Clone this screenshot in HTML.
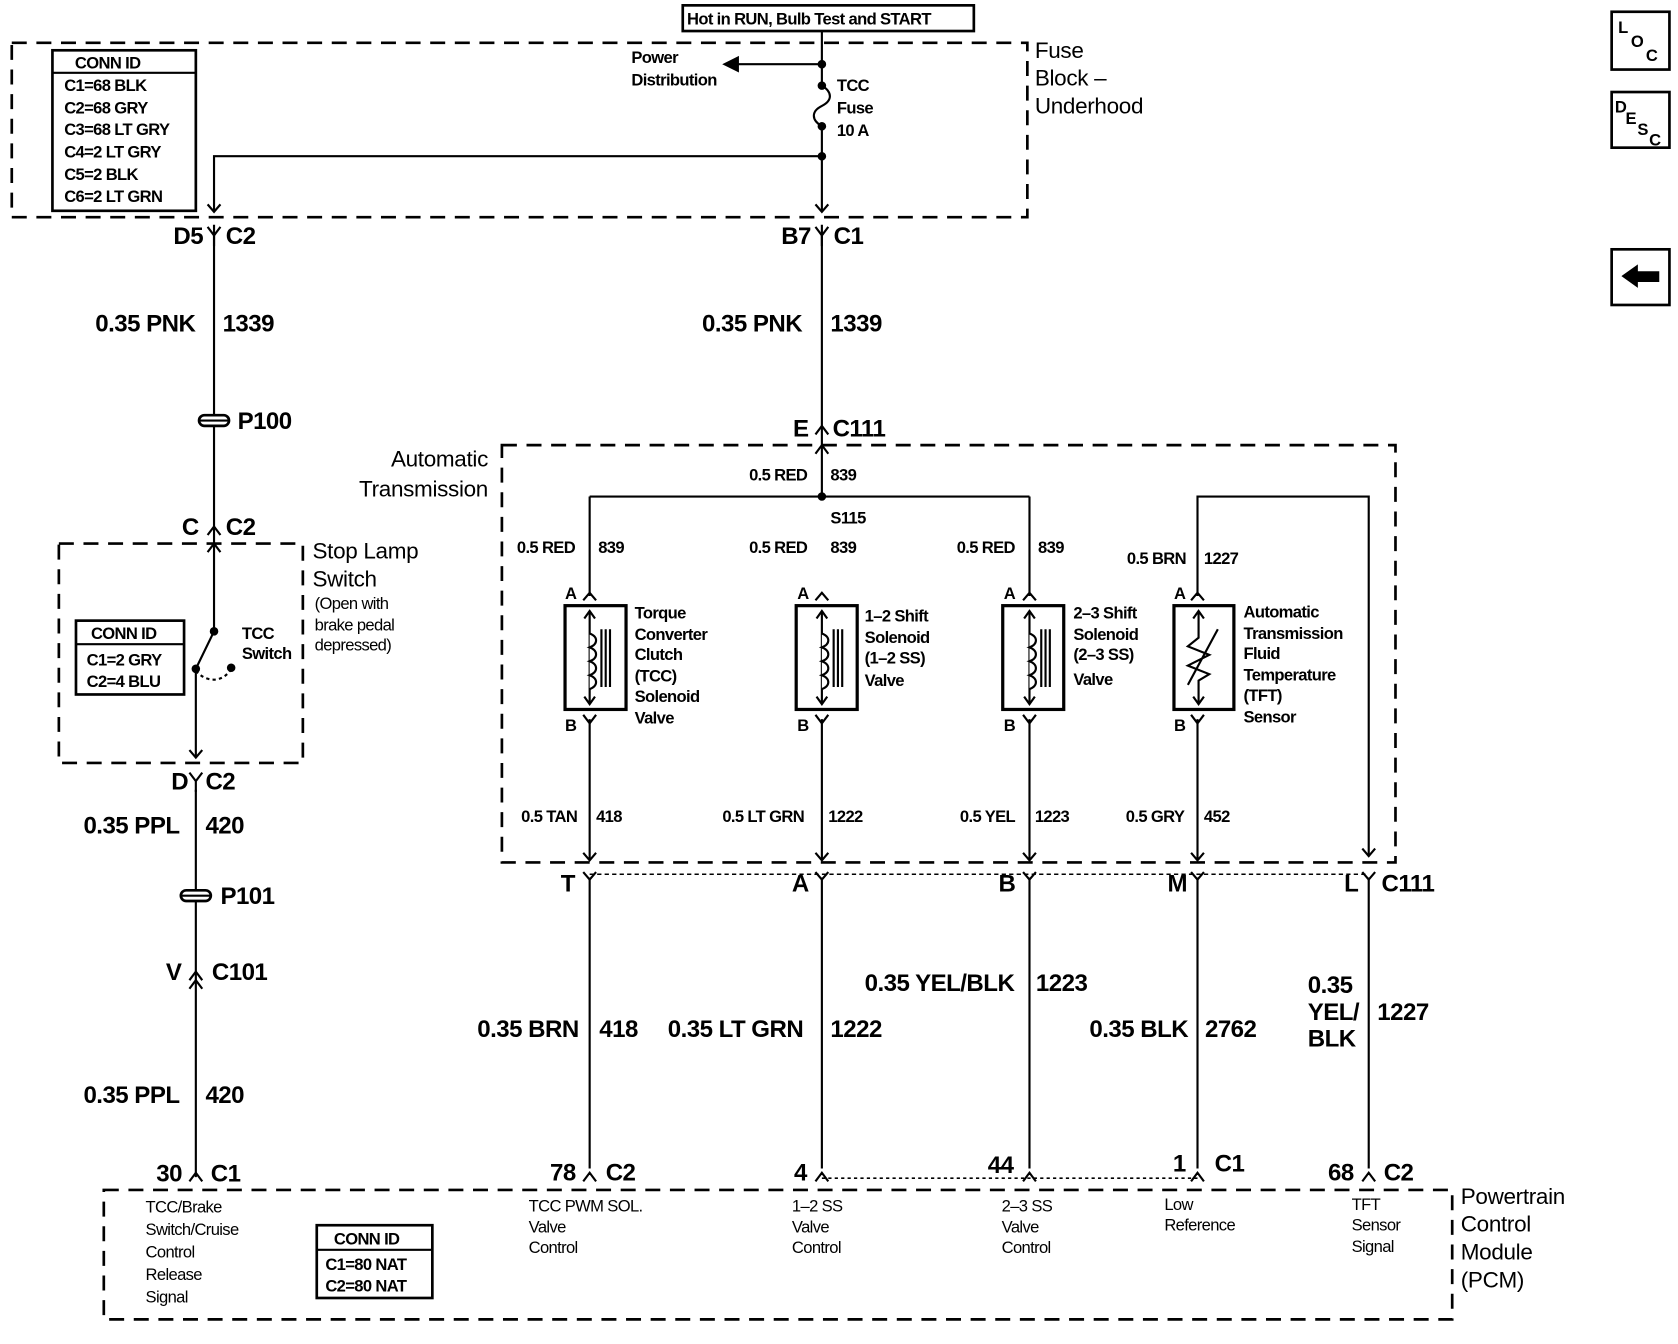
<!DOCTYPE html>
<html><head><meta charset="utf-8"><style>
html,body{margin:0;padding:0;background:#fff;}
svg{display:block;}
text{font-family:"Liberation Sans",sans-serif;fill:#000;font-weight:bold;}
.s{font-size:15.5px;letter-spacing:-0.6px;font-weight:normal;}
.sb{font-size:15.5px;letter-spacing:-0.6px;}
.m{font-size:22.5px;letter-spacing:-0.5px;}
.l{font-size:21px;letter-spacing:-0.3px;font-weight:normal;}
</style></head><body>
<svg width="1678" height="1344" viewBox="0 0 1568 1256" preserveAspectRatio="none" xmlns="http://www.w3.org/2000/svg">
<g fill="none" stroke="#000" stroke-width="2">
<rect x="11" y="40" width="949" height="163" stroke-dasharray="14,9" stroke-width="2.5"/>
<rect x="55" y="508" width="228" height="205" stroke-dasharray="14,9" stroke-width="2.5"/>
<rect x="469" y="416" width="835" height="390" stroke-dasharray="14,9" stroke-width="2.5"/>
<rect x="97" y="1112" width="1260" height="121" stroke-dasharray="14,9" stroke-width="2.5"/>
<rect x="638" y="5" width="272" height="24" stroke-width="2.5"/>
<rect x="49" y="47" width="134" height="150" stroke-width="2.5"/>
<line x1="49" y1="68" x2="183" y2="68"/>
<rect x="71" y="580" width="101" height="69" stroke-width="2.5"/>
<line x1="71" y1="602" x2="172" y2="602"/>
<rect x="296" y="1145" width="108" height="68" stroke-width="2.5"/>
<line x1="296" y1="1168" x2="404" y2="1168"/>
<rect x="1506" y="11" width="54" height="54" stroke-width="2.5"/>
<rect x="1506" y="86" width="54" height="52" stroke-width="2.5"/>
<rect x="1506" y="233" width="54" height="52" stroke-width="2.5"/>
<path d="M768 29 V80 M768 118 V198"/>
<path d="M768 80 C778 86,778 94,768 99 C758 104,758 112,768 118"/>
<path d="M768 60 H682"/>
<path d="M768 146 H200 V198"/>
<path d="M762 191 L768 198 L774 191 M194 191 L200 198 L206 191"/>
<path d="M200 210 V590 M200 590 L184 623 M183 625 V708"/>
<path d="M194 516 L200 508 L206 516"/>
<path d="M177 701 L183 708 L189 701"/>
<path d="M183 627 C195 640,210 636,216 625" stroke-dasharray="3,3"/>
<path d="M183 738 V1100"/>
<path d="M768 210 V464"/>
<path d="M762 424 L768 416 L774 424"/>
<path d="M551 464 H962 M551 464 V557 M962 464 V557"/>
<path d="M1119 557 V464 H1279 V800"/>
<rect x="528" y="566" width="57" height="97" stroke-width="3"/>
<rect x="744" y="566" width="57" height="97" stroke-width="3"/>
<rect x="937" y="566" width="57" height="97" stroke-width="3"/>
<rect x="1097" y="566" width="56" height="97" stroke-width="3"/>
<path d="M551 672 V804 M768 672 V804 M962 672 V804 M1119 672 V804"/>
<path d="M545 797 L551 804 L557 797 M762 797 L768 804 L774 797 M956 797 L962 804 L968 797 M1113 797 L1119 804 L1125 797 M1273 793 L1279 800 L1285 793"/>
<path d="M551 817 H1279" stroke-dasharray="4,3" stroke-width="1.3"/>
<path d="M768 1101 H1119" stroke-dasharray="3,3" stroke-width="1.5"/>
<path d="M551 820 V1092 M768 820 V1092 M962 820 V1092 M1119 820 V1092 M1279 820 V1092"/>
</g>
<g fill="none" stroke="#000" stroke-width="2">
<path d="M194 212 L200 220 L206 212 M200 220 V230"/>
<path d="M762 212 L768 220 L774 212 M768 220 V230"/>
<path d="M762 406 L768 398 L774 406"/>
<path d="M194 500 L200 492 L206 500"/>
<path d="M177 722 L183 730 L189 722 M183 730 V740"/>
<path d="M177 916 L183 908 L189 916 M177 924 L183 916 L189 924"/>
<path d="M177 1104 L183 1096 L189 1104"/>
<path d="M545 1104 L551 1096 L557 1104 M762 1104 L768 1096 L774 1104 M956 1104 L962 1096 L968 1104 M1113 1104 L1119 1096 L1125 1104 M1273 1104 L1279 1096 L1285 1104"/>
<path d="M545 561 L551 554 L557 561 M762 561 L768 554 L774 561 M956 561 L962 554 L968 561 M1113 561 L1119 554 L1125 561"/>
<path d="M545 668 L551 676 L557 668 M762 668 L768 676 L774 668 M956 668 L962 676 L968 668 M1113 668 L1119 676 L1125 668"/>
<path d="M545 815 L551 822 L557 815 M762 815 L768 822 L774 815 M956 815 L962 822 L968 815 M1113 815 L1119 822 L1125 815 M1273 815 L1279 822 L1285 815"/>
<path d="M551 572 V658 M546 578 L551 571 L556 578 M546 651 L551 658 L556 651 M562 588 V642 M566 588 V642 M570 588 V642"/>
<path d="M768 572 V658 M763 578 L768 571 L773 578 M763 651 L768 658 L773 651 M779 588 V642 M783 588 V642 M787 588 V642"/>
<path d="M962 572 V658 M957 578 L962 571 L967 578 M957 651 L962 658 L967 651 M973 588 V642 M977 588 V642 M981 588 V642"/>
<path d="M551 592 c8 3,8 10,0 13 c8 3,8 10,0 13 c8 3,8 10,0 13 c8 3,8 10,0 13" fill="#fff"/>
<path d="M768 592 c8 3,8 10,0 13 c8 3,8 10,0 13 c8 3,8 10,0 13 c8 3,8 10,0 13" fill="#fff"/>
<path d="M962 592 c8 3,8 10,0 13 c8 3,8 10,0 13 c8 3,8 10,0 13 c8 3,8 10,0 13" fill="#fff"/>
<path d="M1120 572 V596 L1110 604 L1130 612 L1110 622 L1130 630 L1120 636 V658 M1115 578 L1120 571 L1125 578 M1115 651 L1120 658 L1125 651 M1110 640 L1138 588"/>
</g>
<g fill="#000" stroke="#000">
<rect x="186" y="388" width="28" height="10" rx="5" fill="#fff" stroke-width="2.5"/>
<line x1="186" y1="393" x2="214" y2="393" stroke-width="2"/>
<rect x="169" y="832" width="28" height="10" rx="5" fill="#fff" stroke-width="2.5"/>
<line x1="169" y1="837" x2="197" y2="837" stroke-width="2"/>
<circle cx="768" cy="60" r="3.5"/><circle cx="768" cy="80" r="3.5"/><circle cx="768" cy="118" r="3.5"/><circle cx="768" cy="146" r="3.5"/>
<circle cx="768" cy="464" r="3.5"/>
<circle cx="200" cy="590" r="3.5"/><circle cx="183" cy="625" r="3.5"/><circle cx="216" cy="624" r="3.5"/>
<polygon points="676,60 690,53 690,67"/>
<polygon points="1516,258 1530,248 1530,254 1550,254 1550,263 1530,263 1530,268"/>
</g>
<text class="sb" x="642" y="23">Hot in RUN, Bulb Test and START</text>
<text class="l" x="967" y="54">Fuse</text>
<text class="l" x="967" y="80">Block –</text>
<text class="l" x="967" y="106">Underhood</text>
<text class="sb" x="70" y="64">CONN ID</text>
<text class="sb" x="60" y="85">C1=68 BLK</text>
<text class="sb" x="60" y="106">C2=68 GRY</text>
<text class="sb" x="60" y="126">C3=68 LT GRY</text>
<text class="sb" x="60" y="147">C4=2 LT GRY</text>
<text class="sb" x="60" y="168">C5=2 BLK</text>
<text class="sb" x="60" y="189">C6=2 LT GRN</text>
<text class="sb" x="590" y="59">Power</text>
<text class="sb" x="590" y="80">Distribution</text>
<text class="sb" x="782" y="85">TCC</text>
<text class="sb" x="782" y="106">Fuse</text>
<text class="sb" x="782" y="127">10 A</text>
<text class="m" x="162" y="228">D5</text><text class="m" x="211" y="228">C2</text>
<text class="m" x="730" y="228">B7</text><text class="m" x="779" y="228">C1</text>
<text class="m" x="89" y="310">0.35 PNK</text><text class="m" x="208" y="310">1339</text>
<text class="m" x="656" y="310">0.35 PNK</text><text class="m" x="776" y="310">1339</text>
<text class="m" x="222" y="401">P100</text>
<text class="m" x="741" y="408">E</text><text class="m" x="778" y="408">C111</text>
<text class="l" x="456" y="436" text-anchor="end">Automatic</text>
<text class="l" x="456" y="464" text-anchor="end">Transmission</text>
<text class="m" x="170" y="500">C</text><text class="m" x="211" y="500">C2</text>
<text class="l" x="292" y="522">Stop Lamp</text>
<text class="l" x="292" y="548">Switch</text>
<text class="s" x="294" y="569">(Open with</text>
<text class="s" x="294" y="589">brake pedal</text>
<text class="s" x="294" y="608">depressed)</text>
<text class="sb" x="226" y="597">TCC</text>
<text class="sb" x="226" y="616">Switch</text>
<text class="sb" x="85" y="597">CONN ID</text>
<text class="sb" x="81" y="622">C1=2 GRY</text>
<text class="sb" x="81" y="642">C2=4 BLU</text>
<text class="m" x="160" y="738">D</text><text class="m" x="192" y="738">C2</text>
<text class="m" x="78" y="779">0.35 PPL</text><text class="m" x="192" y="779">420</text>
<text class="m" x="206" y="845">P101</text>
<text class="m" x="155" y="916">V</text><text class="m" x="198" y="916">C101</text>
<text class="m" x="78" y="1031">0.35 PPL</text><text class="m" x="192" y="1031">420</text>
<text class="m" x="146" y="1104">30</text><text class="m" x="197" y="1104">C1</text>
<text class="sb" x="700" y="449">0.5 RED</text><text class="sb" x="776" y="449">839</text>
<text class="sb" x="776" y="489">S115</text>
<text class="sb" x="483" y="517">0.5 RED</text><text class="sb" x="559" y="517">839</text>
<text class="sb" x="700" y="517">0.5 RED</text><text class="sb" x="776" y="517">839</text>
<text class="sb" x="894" y="517">0.5 RED</text><text class="sb" x="970" y="517">839</text>
<text class="sb" x="1053" y="527">0.5 BRN</text><text class="sb" x="1125" y="527">1227</text>
<text class="sb" x="528" y="560">A</text><text class="sb" x="745" y="560">A</text><text class="sb" x="938" y="560">A</text><text class="sb" x="1097" y="560">A</text>
<text class="sb" x="528" y="683">B</text><text class="sb" x="745" y="683">B</text><text class="sb" x="938" y="683">B</text><text class="sb" x="1097" y="683">B</text>
<text class="sb" x="593" y="578">Torque</text><text class="sb" x="593" y="598">Converter</text><text class="sb" x="593" y="617">Clutch</text><text class="sb" x="593" y="637">(TCC)</text><text class="sb" x="593" y="656">Solenoid</text><text class="sb" x="593" y="676">Valve</text>
<text class="sb" x="808" y="581">1–2 Shift</text><text class="sb" x="808" y="601">Solenoid</text><text class="sb" x="808" y="620">(1–2 SS)</text><text class="sb" x="808" y="641">Valve</text>
<text class="sb" x="1003" y="578">2–3 Shift</text><text class="sb" x="1003" y="598">Solenoid</text><text class="sb" x="1003" y="617">(2–3 SS)</text><text class="sb" x="1003" y="640">Valve</text>
<text class="sb" x="1162" y="577">Automatic</text><text class="sb" x="1162" y="597">Transmission</text><text class="sb" x="1162" y="616">Fluid</text><text class="sb" x="1162" y="636">Temperature</text><text class="sb" x="1162" y="655">(TFT)</text><text class="sb" x="1162" y="675">Sensor</text>
<text class="sb" x="487" y="768">0.5 TAN</text><text class="sb" x="557" y="768">418</text>
<text class="sb" x="675" y="768">0.5 LT GRN</text><text class="sb" x="774" y="768">1222</text>
<text class="sb" x="897" y="768">0.5 YEL</text><text class="sb" x="967" y="768">1223</text>
<text class="sb" x="1052" y="768">0.5 GRY</text><text class="sb" x="1125" y="768">452</text>
<text class="m" x="524" y="833">T</text><text class="m" x="740" y="833">A</text><text class="m" x="933" y="833">B</text><text class="m" x="1091" y="833">M</text><text class="m" x="1256" y="833">L</text><text class="m" x="1291" y="833">C111</text>
<text class="m" x="808" y="926">0.35 YEL/BLK</text><text class="m" x="968" y="926">1223</text>
<text class="m" x="446" y="969">0.35 BRN</text><text class="m" x="560" y="969">418</text>
<text class="m" x="624" y="969">0.35 LT GRN</text><text class="m" x="776" y="969">1222</text>
<text class="m" x="1018" y="969">0.35 BLK</text><text class="m" x="1126" y="969">2762</text>
<text class="m" x="1222" y="928">0.35</text><text class="m" x="1222" y="953">YEL/</text><text class="m" x="1222" y="978">BLK</text><text class="m" x="1287" y="953">1227</text>
<text class="m" x="514" y="1103">78</text><text class="m" x="566" y="1103">C2</text>
<text class="m" x="742" y="1103">4</text>
<text class="m" x="923" y="1096">44</text>
<text class="m" x="1096" y="1095">1</text><text class="m" x="1135" y="1095">C1</text>
<text class="m" x="1241" y="1103">68</text><text class="m" x="1293" y="1103">C2</text>
<text class="s" x="136" y="1133">TCC/Brake</text><text class="s" x="136" y="1154">Switch/Cruise</text><text class="s" x="136" y="1175">Control</text><text class="s" x="136" y="1196">Release</text><text class="s" x="136" y="1217">Signal</text>
<text class="sb" x="312" y="1163">CONN ID</text><text class="sb" x="304" y="1187">C1=80 NAT</text><text class="sb" x="304" y="1207">C2=80 NAT</text>
<text class="s" x="494" y="1132">TCC PWM SOL.</text><text class="s" x="494" y="1152">Valve</text><text class="s" x="494" y="1171">Control</text>
<text class="s" x="740" y="1132">1–2 SS</text><text class="s" x="740" y="1152">Valve</text><text class="s" x="740" y="1171">Control</text>
<text class="s" x="936" y="1132">2–3 SS</text><text class="s" x="936" y="1152">Valve</text><text class="s" x="936" y="1171">Control</text>
<text class="s" x="1088" y="1131">Low</text><text class="s" x="1088" y="1150">Reference</text>
<text class="s" x="1263" y="1131">TFT</text><text class="s" x="1263" y="1150">Sensor</text><text class="s" x="1263" y="1170">Signal</text>
<text class="l" x="1365" y="1125">Powertrain</text><text class="l" x="1365" y="1151">Control</text><text class="l" x="1365" y="1177">Module</text><text class="l" x="1365" y="1203">(PCM)</text>
<text class="sb" x="1512" y="31">L</text><text class="sb" x="1524" y="44">O</text><text class="sb" x="1538" y="57">C</text>
<text class="sb" x="1509" y="105">D</text><text class="sb" x="1519" y="116">E</text><text class="sb" x="1530" y="126">S</text><text class="sb" x="1541" y="136">C</text>
</svg>
</body></html>
